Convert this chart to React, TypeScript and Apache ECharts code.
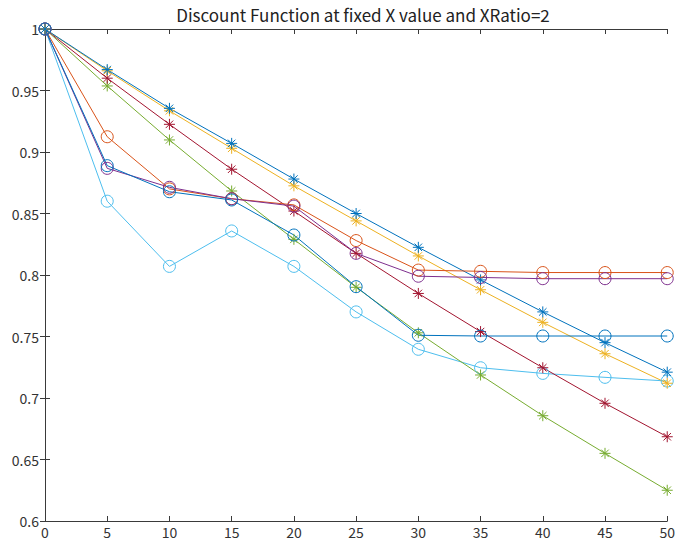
import React, { useEffect, useRef } from "react";
import * as echarts from "echarts";

const titleText = "Discount Function at fixed X value and XRatio=2";
const xValues = [0, 5, 10, 15, 20, 25, 30, 35, 40, 45, 50];

const blueStar = [1, 0.967, 0.9355, 0.907, 0.878, 0.85, 0.8225, 0.796, 0.77, 0.745, 0.721];
const yellowStar = [1, 0.966, 0.9335, 0.903, 0.8725, 0.844, 0.8155, 0.788, 0.7615, 0.736, 0.712];
const redStar = [1, 0.96, 0.9225, 0.886, 0.852, 0.8176, 0.785, 0.754, 0.7246, 0.6957, 0.6685];
const greenStar = [1, 0.9537, 0.9098, 0.8683, 0.829, 0.79, 0.753, 0.7187, 0.6856, 0.655, 0.625];
const orangeCircle = [1, 0.9124, 0.87, 0.862, 0.857, 0.828, 0.804, 0.803, 0.802, 0.802, 0.802];
const purpleCircle = [1, 0.8867, 0.8713, 0.862, 0.856, 0.8176, 0.799, 0.798, 0.797, 0.797, 0.797];
const blueCircle = [1, 0.8889, 0.8677, 0.861, 0.8325, 0.7905, 0.751, 0.7504, 0.7504, 0.7504, 0.7504];
const lightBlueCircle = [1, 0.86, 0.807, 0.8358, 0.807, 0.77, 0.7396, 0.7246, 0.72, 0.7168, 0.7138];

const STAR = "path://M5,0 L5,10 M0,5 L10,5 M1.6,1.6 L8.4,8.4 M1.6,8.4 L8.4,1.6";

export default function App() {
  const ref = useRef<HTMLDivElement>(null);
  useEffect(() => {
    if (!ref.current) return;
    const chart = echarts.init(ref.current, null, { renderer: "svg" });
    const mk = (name: string, vals: number[], color: string, star: boolean) => ({
      name,
      type: "line",
      data: vals.map((v, i) => [xValues[i], v]),
      symbol: star ? STAR : "circle",
      symbolSize: star ? 11 : 12,
      lineStyle: { color, width: 1 },
      itemStyle: { color: "rgba(0,0,0,0)", borderColor: color, borderWidth: 1 },
      emphasis: { disabled: true },
      z: 2,
    });
    const font = "'Noto Sans CJK JP', 'Noto Sans', sans-serif";
    const axisColor = "#3a3a3a";
    chart.setOption({
      animation: false,
      title: {
        text: titleText,
        left: 358,
        textAlign: "center",
        top: 1,
        textStyle: { fontSize: 17, fontWeight: "normal", color: "#222", fontFamily: font },
      },
      grid: { left: 45, right: 7, top: 29, bottom: 20 },
      xAxis: [
        {
          type: "value",
          min: 0,
          max: 50,
          interval: 5,
          axisLine: { lineStyle: { color: axisColor, width: 1 } },
          axisTick: { inside: true, length: 5, lineStyle: { color: axisColor } },
          axisLabel: { margin: 3, fontSize: 14, lineHeight: 15, color: "#333", fontFamily: font },
          splitLine: { show: false },
        },
        {
          type: "value",
          position: "top",
          min: 0,
          max: 50,
          interval: 5,
          axisLine: { show: true, lineStyle: { color: axisColor, width: 1 } },
          axisTick: { show: true, inside: true, length: 5, lineStyle: { color: axisColor } },
          axisLabel: { show: false },
          splitLine: { show: false },
        },
      ],
      yAxis: [
        {
          type: "value",
          min: 0.6,
          max: 1,
          interval: 0.05,
          axisLine: { show: true, lineStyle: { color: axisColor, width: 1 } },
          axisTick: { show: true, inside: true, length: 5, lineStyle: { color: axisColor } },
          axisLabel: { margin: 6, fontSize: 14, color: "#333", fontFamily: font },
          splitLine: { show: false },
        },
        {
          type: "value",
          position: "right",
          min: 0.6,
          max: 1,
          interval: 0.05,
          axisLine: { show: true, lineStyle: { color: axisColor, width: 1 } },
          axisTick: { show: true, inside: true, length: 5, lineStyle: { color: axisColor } },
          axisLabel: { show: false },
          splitLine: { show: false },
        },
      ],
      series: [
        mk("Light blue circle", lightBlueCircle, "#4DBEEE", false),
        mk("Green star", greenStar, "#77AC30", true),
        mk("Red star", redStar, "#A2142F", true),
        mk("Yellow star", yellowStar, "#EDB120", true),
        mk("Blue star", blueStar, "#0072BD", true),
        mk("Orange circle", orangeCircle, "#D95319", false),
        mk("Purple circle", purpleCircle, "#7E2F8E", false),
        mk("Blue circle", blueCircle, "#0072BD", false),
      ],
    });
    return () => chart.dispose();
  }, []);
  return <div ref={ref} style={{ width: 678, height: 541, position: "absolute", left: 0, top: 0, background: "#fff" }} />;
}
